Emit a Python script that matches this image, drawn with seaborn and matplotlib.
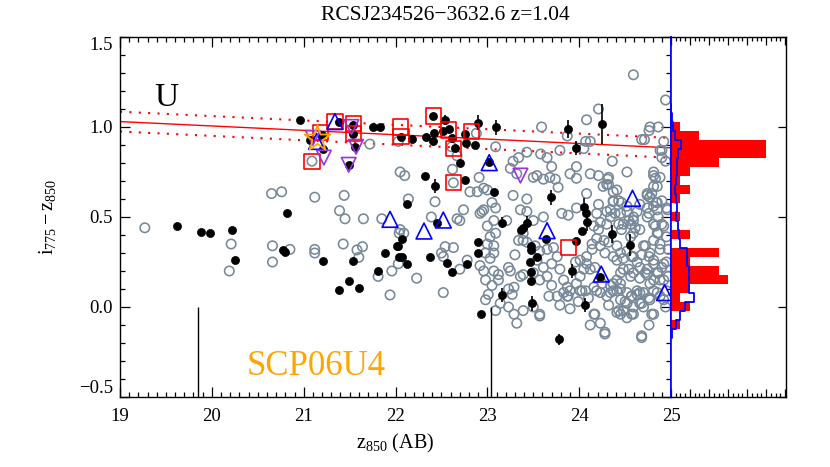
import matplotlib
matplotlib.use("Agg")
import numpy as np
import matplotlib.pyplot as plt
import seaborn as sns
from matplotlib.ticker import MultipleLocator

# field galaxies (open grey circles), split by magnitude range
gray_mag_a = [19.27, 20.21, 20.19, 20.65, 20.76, 20.66, 20.66, 20.85, 21.09, 21.12,
              21.12, 21.12, 21.44, 21.39, 21.45, 21.43, 21.58, 21.60, 21.64, 21.65,
              21.85, 21.72, 22.03, 21.81, 21.96, 21.94, 22.04, 22.03, 22.05, 22.10,
              22.05, 22.09]
gray_col_a = [0.44, 0.35, 0.20, 0.63, 0.64, 0.34, 0.25, 0.32, 0.81, 0.61,
              0.32, 0.30, 0.62, 0.535, 0.49, 0.35, 0.317, 0.276, 0.335, 0.49,
              0.49, 0.905, 0.92, 0.17, 0.20, 0.067, 0.41, 0.24, 0.75, 0.73,
              0.43, 0.41]

gray_mag_b = [22.14, 22.43, 22.23, 22.39, 22.54, 22.50, 22.52, 22.63, 22.70, 22.74,
              22.78, 22.70, 22.52, 22.62, 22.63, 22.67, 22.88, 23.09, 22.91, 22.81,
              22.89, 22.96, 23.00, 22.92, 22.96, 23.00, 23.07, 23.03, 23.09, 23.00,
              23.07, 22.98, 23.07, 23.03, 22.92, 22.96, 23.07, 23.12, 22.98, 23.12,
              23.05, 23.01, 23.09, 23.27, 23.23, 23.29, 23.25, 23.23, 23.36, 23.30,
              23.34, 23.39, 22.94, 23.09, 23.05, 23.28, 23.36, 23.21, 23.23, 23.14,
              22.98, 23.29, 23.32, 23.39, 23.28, 23.34, 23.25, 23.32, 22.61, 22.67]
gray_col_b = [0.60, 0.585, 0.16, 0.50, 0.335, 0.30, 0.28, 0.33, 0.48, 0.54,
              0.26, 0.21, 0.08, 0.765, 0.69, 0.49, 0.965, 0.89, 0.72, 0.64,
              0.64, 0.66, 0.65, 0.52, 0.54, 0.45, 0.48, 0.39, 0.41, 0.35,
              0.34, 0.30, 0.30, 0.27, 0.23, 0.20, 0.20, 0.18, 0.15, 0.15,
              0.12, 0.07, -0.02, 0.07, 0.10, 0.11, 0.20, 0.22, 0.17, 0.29,
              0.37, 0.41, 0.53, 0.55, 0.58, 0.62, 0.54, 0.48, 0.00, 0.02,
              0.04, -0.04, -0.09, -0.02, 0.81, 0.83, 0.77, 0.74, 0.89, 0.84]

gray_mag_c = [23.43, 23.58, 23.65, 23.70, 23.79, 23.97, 23.90, 23.97, 23.50, 23.54,
              23.61, 23.68, 23.74, 23.77, 23.59, 23.87, 24.08, 24.05, 24.07, 24.12,
              24.12, 24.08, 23.81, 23.88, 23.97, 23.43, 23.43, 23.50, 23.61, 23.57,
              23.50, 23.43, 23.39, 23.52, 23.57, 23.65, 23.72, 23.76, 23.70, 23.61,
              23.65, 23.70, 23.57, 23.50, 23.39, 23.54, 23.79, 23.83, 23.87, 23.76,
              23.83, 23.88, 23.90, 23.97, 24.01, 24.01, 24.05, 24.08, 24.01, 23.96,
              24.12, 24.17, 24.14, 24.08, 24.07, 24.10, 24.19, 24.23, 24.17, 24.12,
              23.79, 23.67, 23.57, 23.90, 23.99, 24.19, 24.16, 24.21, 24.19, 24.14,
              24.21, 24.23, 24.23, 24.03, 24.16, 23.87, 24.16]
gray_col_c = [0.86, 0.85, 0.83, 0.78, 0.87, 0.78, 0.74, 0.715, 0.72, 0.73,
              0.71, 0.72, 0.71, 0.665, 1.00, 0.95, 1.04, 0.88, 0.92, 0.92,
              0.74, 0.63, 0.52, 0.51, 0.55, 0.60, 0.53, 0.48, 0.50, -0.05,
              0.00, 0.36, 0.37, 0.34, 0.31, 0.32, 0.33, 0.28, 0.24, 0.22,
              0.17, 0.12, 0.15, 0.19, 0.18, 0.26, 0.21, 0.15, 0.11, 0.06,
              0.08, 0.06, 0.09, 0.13, 0.09, 0.17, 0.21, 0.24, 0.26, 0.25,
              0.21, 0.22, 0.32, 0.28, 0.09, 0.05, 0.09, 0.08, -0.04, -0.10,
              0.01, 0.06, -0.04, -0.01, 0.03, 0.52, 0.45, 0.43, 0.38, 0.35,
              0.57, 0.47, 0.34, 0.09, 0.11, 0.06, -0.04]

gray_mag_d = [24.21, 24.21, 24.31, 24.32, 24.26, 24.37, 24.41, 24.52, 24.59, 24.71,
              24.77, 24.86, 24.76, 24.94, 24.92, 24.90, 24.94, 24.81, 24.83, 24.85,
              24.74, 24.77, 24.84, 24.96, 24.74, 24.66, 24.63, 24.30, 24.34, 24.37,
              24.43, 24.68, 24.36, 24.90, 24.88, 24.34, 24.45, 24.52, 24.54, 24.48,
              24.43, 24.46, 24.56, 24.59, 24.61, 24.59, 24.56, 24.74, 24.79, 24.85,
              24.76, 24.81, 24.86, 24.95, 24.92, 24.85, 24.81, 24.88, 24.95, 24.97,
              24.30, 24.32, 24.28, 24.41, 24.45, 24.37, 24.41, 24.48, 24.52, 24.59,
              24.63, 24.68, 24.72, 24.76, 24.66, 24.74, 24.81, 24.85, 24.90, 24.95,
              24.97, 24.88, 24.81, 24.74, 24.66, 24.59, 24.54, 24.56, 24.48, 24.45,
              24.41, 24.45, 24.52, 24.57, 24.63, 24.70, 24.76, 24.81, 24.88, 24.95,
              24.66, 24.59, 24.52, 24.45, 24.41, 24.37, 24.30, 24.32, 24.25, 24.28,
              24.43, 24.45, 24.52, 24.59, 24.68, 24.76, 24.23, 24.32, 24.30, 24.37,
              24.46, 24.52, 24.59, 24.39, 24.66, 24.70, 24.77, 24.81, 24.88, 24.92,
              24.27, 24.57, 24.72, 24.77, 24.86, 24.92, 24.85, 24.77, 24.66, 24.34,
              24.48, 24.70, 24.81, 24.81, 24.88, 24.81, 24.77, 24.81, 24.85, 24.90,
              24.74, 24.83, 24.86, 24.90, 24.28, 24.68, 24.41, 24.57, 24.79, 24.68,
              24.92, 24.94, 24.57, 24.63, 24.50, 24.37, 24.34, 24.45]
gray_col_d = [1.10, 0.73, 0.71, 0.68, 0.67, 0.64, 0.65, 0.75, 1.29, 0.93,
              1.00, 1.00, 0.98, 1.15, 0.92, 0.87, 0.81, 0.75, 0.715, 0.67,
              0.63, 0.61, 0.58, 0.54, 0.55, 0.57, 0.53, 0.53, 0.50, 0.585,
              0.59, 0.93, 0.81, 0.83, 0.87, 0.54, 0.52, 0.53, 0.48, 0.46,
              0.46, 0.43, 0.46, 0.48, 0.44, 0.41, 0.39, 0.62, 0.63, 0.58,
              0.52, 0.46, 0.50, 0.55, 0.45, 0.41, 0.37, 0.35, 0.39, 0.32,
              0.46, 0.36, 0.30, 0.34, 0.30, 0.28, 0.26, 0.27, 0.31, 0.28,
              0.25, 0.29, 0.34, 0.28, 0.22, 0.21, 0.24, 0.19, 0.22, 0.25,
              0.17, 0.15, 0.15, 0.18, 0.16, 0.19, 0.21, 0.17, 0.21, 0.19,
              0.15, 0.10, 0.08, 0.06, 0.09, 0.08, 0.05, 0.09, 0.06, 0.09,
              0.02, 0.00, 0.02, 0.04, 0.09, 0.13, 0.06, 0.01, 0.13, -0.15,
              -0.02, -0.04, -0.06, -0.04, -0.16, -0.10, -0.09, 0.72, 0.68, 0.59,
              0.58, 0.56, 0.50, 0.52, 0.43, 0.34, 0.30, 0.26, 0.32, 0.24,
              0.37, 0.28, 0.19, 0.13, 0.19, 0.15, 0.08, 0.04, 0.08, 0.08,
              -0.02, 0.00, -0.04, 0.73, 0.72, 0.67, 0.61, 0.56, 0.54, 0.59,
              0.50, 0.45, 0.41, 0.46, -0.14, -0.17, -0.03, -0.04, -0.04, 0.02,
              0.04, 0.00, 0.06, 0.07, 0.03, 0.09, 0.12, 0.13]

# spectroscopic / photometric members (filled black)
black_mag = [19.62, 19.88, 19.98, 20.22, 20.25, 20.82, 20.78, 20.80, 20.96, 21.07,
             21.20, 21.21, 21.38, 21.54, 21.54, 21.56, 21.49, 21.75, 21.83, 21.21,
             21.54, 21.49, 21.38, 21.60, 21.81, 21.89, 22.02, 22.04, 22.06, 22.18,
             22.33, 22.41, 22.41, 22.42, 22.54, 22.52, 22.58, 22.61, 22.65, 22.70,
             22.76, 22.76, 22.77, 22.90, 22.87, 23.09, 23.88, 23.96, 24.25, 22.32,
             22.43, 22.12, 23.07, 23.02, 23.69, 24.05, 24.07, 24.08, 24.03, 23.16,
             23.43, 23.39, 23.37, 22.45, 22.07, 22.03, 22.07, 22.12, 22.38, 22.56,
             22.61, 22.78, 22.90, 22.90, 23.16, 22.93, 23.47, 23.48, 23.54, 23.46,
             23.47, 23.48, 23.49, 23.64, 23.97, 23.92, 24.06, 23.78, 24.36, 24.55,
             24.23]
black_col = [0.45, 0.415, 0.41, 0.43, 0.26, 0.52, 0.317, 0.307, 1.039, 0.928,
             0.956, 0.88, 1.03, 1.01, 0.96, 0.89, 0.79, 1.00, 1.00, 0.255,
             0.255, 0.144, 0.094, 0.104, 0.20, 0.30, 0.34, 0.28, 0.946, 0.933,
             0.946, 0.924, 1.061, 0.969, 1.039, 0.98, 0.987, 0.937, 0.882, 0.80,
             0.706, 0.959, 0.909, 1.024, 0.90, 0.998, 0.987, 0.882, 1.017, 0.728,
             0.672, 0.572, 0.637, 0.808, 0.609, 0.557, 0.52, 0.474, 0.424, 0.468,
             0.465, 0.437, 0.428, 0.465, 0.376, 0.339, 0.28, 0.237, 0.28, 0.242,
             0.196, 0.237, 0.363, 0.302, 0.067, -0.039, 0.339, 0.317, 0.276, 0.248,
             0.146, 0.196, 0.02, 0.376, 0.368, 0.20, 0.011, -0.18, 0.404, 0.344,
             0.165]

# members with visible colour errors
err_mag = [22.54, 22.70, 22.90, 23.09, 23.88, 23.96, 24.25, 22.43, 23.69, 24.05,
           24.08, 23.16, 23.43, 23.16, 23.49, 23.92, 24.06, 23.78, 24.36, 24.55,
           22.76, 23.02]
err_col = [1.039, 0.80, 1.024, 0.998, 0.987, 0.882, 1.017, 0.672, 0.609, 0.557,
           0.474, 0.468, 0.465, 0.067, 0.02, 0.20, 0.011, -0.18, 0.404, 0.344,
           0.959, 0.808]
err_size = [0.03, 0.02, 0.04, 0.04, 0.05, 0.04, 0.11, 0.04, 0.04, 0.05,
            0.05, 0.03, 0.04, 0.04, 0.04, 0.04, 0.04, 0.03, 0.05, 0.06,
            0.02, 0.02]

square_mag = [21.09, 21.18, 21.34, 21.54, 21.54, 22.05, 22.06, 22.41, 22.58, 22.63,
              22.63, 22.83, 23.88]
square_col = [0.81, 0.97, 1.03, 1.02, 0.965, 1.00, 0.946, 1.061, 0.983, 0.882,
              0.693, 0.974, 0.33]

tri_up_mag = [21.34, 21.14, 21.94, 22.31, 22.52, 23.02, 23.65, 24.24, 24.58, 24.93]
tri_up_col = [1.03, 0.92, 0.487, 0.422, 0.483, 0.802, 0.424, 0.183, 0.604, 0.08]

tri_dn_mag = [21.22, 21.52, 21.57, 21.49, 23.36, 21.10]
tri_dn_col = [0.83, 1.00, 0.89, 0.79, 0.73, 0.94]

sn_host_mag = [21.15]
sn_host_col = [0.935]

# red-sequence fit and scatter
fit_mag = [19.0, 25.0]
fit_col = [1.030, 0.884]
fit_width = 0.055

# magnitude limits marked on the bottom axis
limit_mag = [19.85, 23.04]

# colour histograms
hist_edges = [-0.17, -0.12, -0.07, -0.02, 0.03, 0.08, 0.13, 0.18, 0.23, 0.28,
              0.33, 0.38, 0.43, 0.48, 0.53, 0.58, 0.63, 0.68, 0.73, 0.78,
              0.83, 0.88, 0.93, 0.98, 1.03, 1.08, 1.13]
member_counts = [0, 1, 0, 2, 1, 2, 6, 5, 2, 5, 0, 2, 0, 1, 0, 1, 2, 1, 2, 5,
                 10, 10, 3, 1, 0, 0]
field_counts = [0.1, 0.55, 0.9, 1.5, 2.45, 1.9, 1.93, 1.86, 1.72, 1.65,
                0.95, 0.88, 0.77, 0.53, 0.6, 0.53, 0.42, 0.5, 0.66, 0.66,
                0.77, 1.05, 0.4, 0.25, 0.1, 0.05]

x_ticks = [19, 20, 21, 22, 23, 24, 25]
y_ticks = [-0.5, 0.0, 0.5, 1.0, 1.5]
y_tick_labels = ["\u22120.5", "0.0", "0.5", "1.0", "1.5"]

GRAY = "#778899"
PURPLE = "#9a32e0"

sns.set_style("ticks")
plt.rcParams["font.family"] = ["Liberation Serif", "DejaVu Serif"]
plt.rcParams["mathtext.fontset"] = "custom"
plt.rcParams["mathtext.rm"] = "Liberation Serif"
plt.rcParams["mathtext.it"] = "Liberation Serif:italic"
for key in ("text.color", "axes.labelcolor", "xtick.color", "ytick.color",
            "axes.edgecolor"):
    plt.rcParams[key] = "black"

fig = plt.figure(figsize=(8.3, 4.67), dpi=100)
ax = fig.add_axes([0.1446, 0.1499, 0.6639, 0.7709])
axh = fig.add_axes([0.8084, 0.1499, 0.1386, 0.7709])

# fit lines
sns.lineplot(x=fit_mag, y=fit_col, color="red", linewidth=1.0, ax=ax, zorder=1)
for sgn in (1, -1):
    sns.lineplot(x=fit_mag, y=np.array(fit_col) + sgn * fit_width, color="red",
                 linewidth=1.5, linestyle=(0, (1, 3.5)), ax=ax, zorder=1)

for gx, gy in [(gray_mag_a, gray_col_a), (gray_mag_b, gray_col_b),
               (gray_mag_c, gray_col_c), (gray_mag_d, gray_col_d)]:
    sns.scatterplot(x=gx, y=gy, marker="o", s=46, facecolor="none", edgecolor=GRAY,
                    linewidth=1.15, ax=ax, legend=False, zorder=2)

ax.errorbar(err_mag, err_col, yerr=err_size, fmt="none", ecolor="black",
            elinewidth=1.2, capsize=0, zorder=3)
sns.scatterplot(x=black_mag, y=black_col, marker="o", s=34, color="black",
                edgecolor="black", linewidth=0.5, ax=ax, legend=False, zorder=4)

sns.scatterplot(x=square_mag, y=square_col, marker="s", s=120, facecolor="none",
                edgecolor="red", linewidth=1.2, ax=ax, legend=False, zorder=5)
sns.scatterplot(x=tri_up_mag, y=tri_up_col, marker="^", s=130, facecolor="none",
                edgecolor="blue", linewidth=1.2, ax=ax, legend=False, zorder=5)
sns.scatterplot(x=tri_dn_mag, y=tri_dn_col, marker="v", s=110, facecolor="none",
                edgecolor=PURPLE, linewidth=1.2, ax=ax, legend=False, zorder=5)
sns.scatterplot(x=sn_host_mag, y=sn_host_col, marker="*", s=380, facecolor="none",
                edgecolor="orange", linewidth=1.3, ax=ax, legend=False, zorder=6)

ax.vlines(limit_mag, -0.5, 0.0, color="black", linewidth=1.0)

ax.text(19.51, 1.165, "U", fontsize=24, ha="center", va="center")
ax.text(21.13, -0.33, "SCP06U4", fontsize=25, color="orange", ha="center", va="center")

ax.set_xlim(19, 25)
ax.set_ylim(-0.5, 1.5)
ax.set_xticks(x_ticks, labels=[str(v) for v in x_ticks])
ax.set_yticks(y_ticks, labels=y_tick_labels)
ax.xaxis.set_minor_locator(MultipleLocator(0.1))
ax.yaxis.set_minor_locator(MultipleLocator(0.1))
ax.tick_params(which="both", direction="in", top=True, right=True, width=0.9,
               labelsize=13.5, color="black", labelcolor="black")
ax.tick_params(which="major", length=7)
ax.tick_params(which="minor", length=3.5)
ax.tick_params(axis="x", pad=8)
ax.tick_params(axis="y", pad=5)
ax.get_yticklabels()[0].set_va("bottom")
ax.get_yticklabels()[-1].set_va("top")
for side in ("left", "top", "bottom"):
    ax.spines[side].set_linewidth(1.0)
    ax.spines[side].set_color("black")
ax.spines["right"].set_color("blue")
ax.spines["right"].set_linewidth(1.2)

ax.set_xlabel(r"$\mathrm{z}_{850}$ (AB)", fontsize=14.5, color="black")
ax.set_ylabel(r"$\mathrm{i}_{775} - \mathrm{z}_{850}$", fontsize=14.5, color="black")
ax.xaxis.set_label_coords(0.5, -0.097)
ax.yaxis.set_label_coords(-0.112, 0.5)

# histogram panel
centers = (np.array(hist_edges[:-1]) + np.array(hist_edges[1:])) / 2
sns.histplot(y=centers, weights=member_counts, bins=hist_edges, color="red",
             alpha=1.0, linewidth=0, ax=axh)
sns.histplot(y=centers, weights=field_counts, bins=hist_edges, element="step",
             fill=False, color="blue", linewidth=1.3, ax=axh)
axh.set_xlim(0, 12.1)
axh.set_ylim(-0.5, 1.5)
axh.set_xlabel("")
axh.set_ylabel("")
axh.xaxis.set_major_locator(MultipleLocator(2))
axh.xaxis.set_minor_locator(MultipleLocator(0.5))
axh.yaxis.set_major_locator(MultipleLocator(0.5))
axh.tick_params(which="both", direction="in", top=True, bottom=True, left=False,
                right=True, labelbottom=False, labelleft=False, width=0.9,
                color="black")
axh.tick_params(which="major", length=6)
axh.tick_params(which="minor", length=3)
axh.tick_params(axis="y", which="minor", right=False)
for side in ("right", "top", "bottom"):
    axh.spines[side].set_linewidth(1.0)
    axh.spines[side].set_color("black")
axh.spines["left"].set_color("blue")
axh.spines["left"].set_linewidth(1.2)

fig.text(0.536, 0.966, "RCSJ234526\u22123632.6 z=1.04", fontsize=15.5,
         ha="center", va="center", color="black")

fig.savefig("out.png", dpi=100)
